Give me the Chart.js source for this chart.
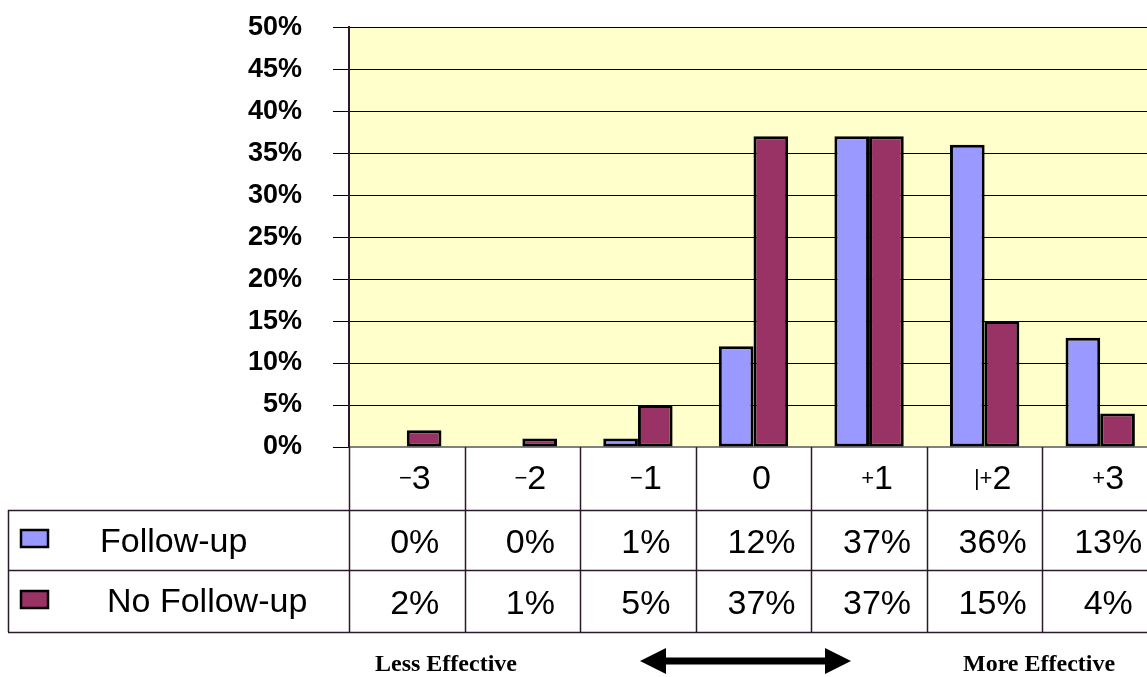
<!DOCTYPE html>
<html>
<head>
<meta charset="utf-8">
<script src="https://cdn.jsdelivr.net/npm/chart.js@4/dist/chart.umd.min.js"></script>
<style>
  html, body { margin: 0; padding: 0; background: #ffffff; overflow: hidden; }
  #wrap { width: 1147px; height: 677px; overflow: hidden; }
  canvas { display: block; }
</style>
</head>
<body>
<div id="wrap"><canvas id="c" width="1165" height="677" style="width:1165px;height:677px"></canvas></div>
<script>
// Rating scale categories and the share of responses per rating
const categories = ['−3', '−2', '−1', '0', '+1', '|+2', '+3'];
const followUp = [0, 0, 1, 12, 37, 36, 13];
const noFollowUp = [2, 1, 5, 37, 37, 15, 4];
const seriesNames = ['Follow-up', 'No Follow-up'];
const seriesColors = ['#9999FF', '#993366'];
const yTicks = [0, 5, 10, 15, 20, 25, 30, 35, 40, 45, 50];
const scaleEnds = ['Less Effective', 'More Effective'];

const SANS = '"Liberation Sans", Arial, sans-serif';
const SERIF = '"Liberation Serif", "Times New Roman", serif';

// Pale yellow plot background
const plotBackground = {
  id: 'plotBackground',
  beforeDraw(chart) {
    const { ctx, chartArea: a } = chart;
    ctx.save();
    ctx.fillStyle = '#FFFFCC';
    ctx.fillRect(a.left, a.top, a.right - a.left, a.bottom - a.top);
    ctx.restore();
  }
};

// Category header: the sign is set smaller than the digit
function drawCategory(ctx, label, cx, baseline) {
  const digit = label.slice(-1);
  const sign = label.slice(0, -1);
  ctx.font = '34px ' + SANS;
  const dw = ctx.measureText(digit).width;
  ctx.font = '22px ' + SANS;
  const sw = ctx.measureText(sign).width;
  const start = cx - (dw + sw) / 2;
  ctx.textAlign = 'left';
  ctx.fillText(sign, start, baseline - 4);
  ctx.font = '34px ' + SANS;
  ctx.fillText(digit, start + sw, baseline);
}

// Data table under the plot: category header row plus one row per series
const dataTable = {
  id: 'dataTable',
  afterDraw(chart) {
    const { ctx, chartArea: a } = chart;
    const x = chart.scales.x;
    const n = categories.length;
    const colW = (a.right - a.left) / n;
    const rowTop = a.bottom;
    const rows = [rowTop + 63, rowTop + 123, rowTop + 185];
    const tableLeft = 8;

    ctx.save();
    ctx.strokeStyle = '#2a1a2a';
    ctx.lineWidth = 1.5;
    ctx.beginPath();
    for (let i = 0; i <= n; i++) {
      const bx = Math.round(a.left + i * colW) + 0.5;
      ctx.moveTo(bx, rowTop);
      ctx.lineTo(bx, rows[2]);
    }
    rows.forEach(ry => {
      ctx.moveTo(tableLeft, ry + 0.5);
      ctx.lineTo(a.right + 10, ry + 0.5);
    });
    ctx.moveTo(tableLeft + 0.5, rows[0]);
    ctx.lineTo(tableLeft + 0.5, rows[2]);
    ctx.stroke();

    ctx.fillStyle = '#000';
    ctx.textBaseline = 'alphabetic';
    const series = [followUp, noFollowUp];
    categories.forEach((c, i) => {
      const cx = x.getPixelForValue(i) + 8;
      drawCategory(ctx, c, cx, rowTop + 42);
      ctx.font = '34px ' + SANS;
      ctx.textAlign = 'center';
      ctx.fillText(series[0][i] + '%', cx, rows[0] + 43);
      ctx.fillText(series[1][i] + '%', cx, rows[1] + 44);
    });

    // legend keys and series names
    ctx.textAlign = 'left';
    ctx.font = '34px ' + SANS;
    const keyY = [rows[0] + 20, rows[1] + 21];
    const textX = [100, 107];
    seriesNames.forEach((name, k) => {
      ctx.fillStyle = seriesColors[k];
      ctx.fillRect(21, keyY[k], 27, 17);
      ctx.strokeStyle = '#000';
      ctx.lineWidth = 2.5;
      ctx.strokeRect(21, keyY[k], 27, 17);
      ctx.fillStyle = '#000';
      ctx.fillText(name, textX[k], rows[k] + 42);
    });

    // effectiveness direction under the table
    ctx.font = 'bold 24px ' + SERIF;
    ctx.fillText(scaleEnds[0], 375, 671);
    ctx.fillText(scaleEnds[1], 963, 671);

    const ay = 661, x0 = 640, x1 = 851, head = 26, half = 13, shaft = 3.5;
    ctx.beginPath();
    ctx.moveTo(x0, ay);
    ctx.lineTo(x0 + head, ay - half);
    ctx.lineTo(x0 + head, ay - shaft);
    ctx.lineTo(x1 - head, ay - shaft);
    ctx.lineTo(x1 - head, ay - half);
    ctx.lineTo(x1, ay);
    ctx.lineTo(x1 - head, ay + half);
    ctx.lineTo(x1 - head, ay + shaft);
    ctx.lineTo(x0 + head, ay + shaft);
    ctx.lineTo(x0 + head, ay + half);
    ctx.closePath();
    ctx.fill();
    ctx.restore();
  }
};

new Chart(document.getElementById('c'), {
  type: 'bar',
  data: {
    labels: categories,
    datasets: [
      { label: seriesNames[0], data: followUp, backgroundColor: seriesColors[0] },
      { label: seriesNames[1], data: noFollowUp, backgroundColor: seriesColors[1] }
    ]
  },
  options: {
    responsive: false,
    animation: false,
    events: [],
    layout: { padding: { top: 27, right: 7, left: 0, bottom: 0 } },
    datasets: {
      bar: {
        categoryPercentage: 0.6,
        barPercentage: 1.0,
        borderColor: '#000000',
        borderWidth: 3,
        borderSkipped: false
      }
    },
    plugins: {
      legend: { display: false },
      title: { display: false },
      tooltip: { enabled: false }
    },
    scales: {
      x: {
        grid: { display: false, drawTicks: false },
        border: { display: true, color: '#808080', width: 2 },
        ticks: { display: false },
        afterFit(scale) { scale.height = 230; }
      },
      y: {
        min: 0,
        max: 50,
        afterBuildTicks(scale) { scale.ticks = yTicks.map(v => ({ value: v })); },
        ticks: {
          padding: 11,
          color: '#000',
          font: { family: SANS, size: 27, weight: 'bold' },
          callback: v => v + '%'
        },
        grid: {
          color: '#000',
          lineWidth: 1,
          tickLength: 36,
          tickColor: '#000',
          // only the 16px next to the axis is visible as a tick mark
          tickBorderDash: [16, 20],
          tickBorderDashOffset: 16
        },
        border: { display: true, color: '#2a1a2a', width: 2 },
        afterFit(scale) { scale.width = 349; }
      }
    }
  },
  plugins: [plotBackground, dataTable]
});
</script>
</body>
</html>
